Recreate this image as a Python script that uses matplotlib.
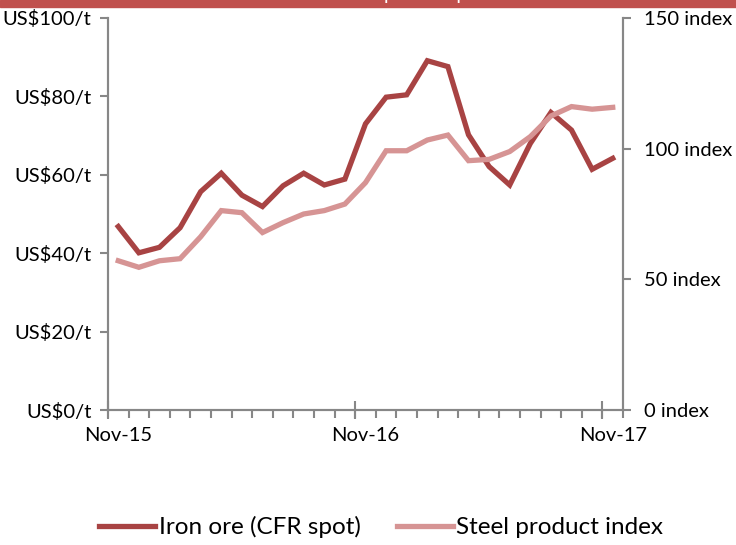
import numpy as np
import matplotlib.pyplot as plt
from matplotlib.patches import Rectangle
from matplotlib.ticker import FixedLocator, NullFormatter

plt.rcParams['font.family'] = ['Lato', 'DejaVu Sans']

# Monthly data, Nov-15 .. Nov-17
iron_ore = [46.8, 40.1, 41.5, 46.5, 55.7, 60.4, 54.8, 51.9, 57.2, 60.4, 57.4, 58.9,
            73.0, 79.8, 80.4, 89.1, 87.6, 70.2, 62.1, 57.4, 68.0, 75.9, 71.4, 61.4, 64.2]
steel_index = [57.1, 54.6, 57.1, 57.9, 66.3, 76.3, 75.5, 67.9, 71.7, 75.0, 76.3, 78.8,
               87.0, 99.2, 99.2, 103.3, 105.2, 95.4, 95.9, 98.9, 104.6, 112.5, 116.1, 115.1, 115.8]
x_labels = ['Nov-15', 'Nov-16', 'Nov-17']
left_ticks = [0, 20, 40, 60, 80, 100]
right_ticks = [0, 50, 100, 150]

iron_col = '#A84343'
steel_col = '#D69494'
axis_col = '#878787'

fig = plt.figure(figsize=(7.36, 5.45), dpi=100)
ax = fig.add_axes([0.1467, 0.2477, 0.6998, 0.7193])
ax2 = ax.twinx()

x = np.arange(len(iron_ore))
ax.plot(x, iron_ore, color=iron_col, lw=3.8, solid_joinstyle='miter', label='Iron ore (CFR spot)')
ax2.plot(x, steel_index, color=steel_col, lw=3.8, solid_joinstyle='miter', label='Steel product index')

ax.set_xlim(-0.5, len(x) - 0.5)
ax.set_ylim(0, 100)
ax2.set_ylim(0, 150)

for a in (ax, ax2):
    a.spines['top'].set_visible(False)
    for s in ('left', 'right', 'bottom'):
        a.spines[s].set_color(axis_col)
        a.spines[s].set_linewidth(1.5)

ax.set_yticks(left_ticks)
ax.set_yticklabels(['US$%d/t' % v for v in left_ticks])
ax2.set_yticks(right_ticks)
ax2.set_yticklabels(['%d index' % v for v in right_ticks])

# labels sit on the first month of each year, ticks on month boundaries
ax.xaxis.set_major_locator(FixedLocator([0, 12, 24]))
ax.set_xticklabels(x_labels)
ax.xaxis.set_minor_locator(FixedLocator(np.arange(-0.5, len(x), 1.0)))
ax.xaxis.set_minor_formatter(NullFormatter())

ax.tick_params(axis='x', which='major', length=0, labelsize=14.5, pad=12)
ax.tick_params(axis='x', which='minor', direction='out', length=6, width=1.5, color=axis_col)
ax.tick_params(axis='y', direction='out', length=6, width=1.5, color=axis_col,
               labelsize=14.5, pad=6)
ax2.tick_params(axis='y', direction='out', length=6, width=1.5, color=axis_col,
                labelsize=14.5, pad=9)

# longer year ticks crossing the axis
sec = ax.secondary_xaxis('bottom')
sec.spines['bottom'].set_visible(False)
sec.set_xticks([-0.5, 11.5, 23.5])
sec.set_xticklabels(['', '', ''])
sec.tick_params(direction='inout', length=13, width=1.5, color=axis_col)

# legend
h1, l1 = ax.get_legend_handles_labels()
h2, l2 = ax2.get_legend_handles_labels()
fig.legend(h1 + h2, l1 + l2, loc='center', bbox_to_anchor=(0.518, 0.033), ncol=2,
           frameon=False, fontsize=17.5, handlelength=2.3, handletextpad=0.15,
           columnspacing=1.5)

# title band (cut off at the top)
fig.patches.append(Rectangle((0, 1 - 7 / 545), 1, 7 / 545, transform=fig.transFigure,
                             color='#C0504D', zorder=0))
fig.text(0.5, 1.0, 'Iron ore and steel product prices', color='white',
         fontsize=14, ha='center', va='baseline')

fig.savefig('out.png', dpi=100)
